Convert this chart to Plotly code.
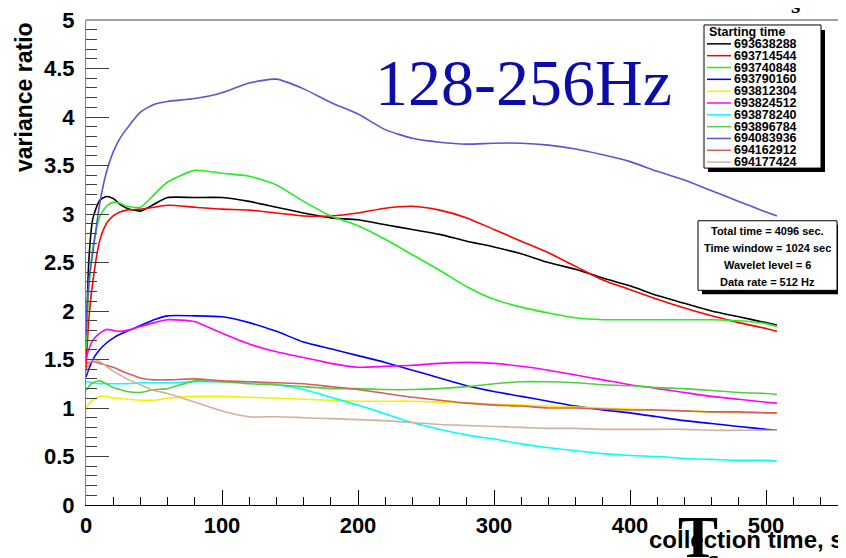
import plotly.graph_objects as go

# ---------------- data ----------------
time_s = [0, 2, 5, 10, 15, 20, 25, 30, 40, 50, 60, 80, 100, 120, 140, 160, 180, 200,
          220, 240, 260, 280, 300, 320, 340, 360, 380, 400, 420, 440, 460, 480, 500, 508]

starting_times = ["693638288", "693714544", "693740848", "693790160", "693812304",
                  "693824512", "693878240", "693896784", "694083936", "694162912",
                  "694177424"]

r_693638288 = [1.5, 2.5, 2.95, 3.14, 3.18, 3.16, 3.1, 3.06, 3.03, 3.1, 3.17, 3.17, 3.17, 3.13,
               3.07, 3.01, 2.96, 2.94, 2.89, 2.84, 2.79, 2.72, 2.66, 2.59, 2.5, 2.43, 2.34,
               2.26, 2.16, 2.08, 2.0, 1.94, 1.88, 1.855]
r_693714544 = [1.4, 1.9, 2.3, 2.72, 2.9, 2.98, 3.02, 3.04, 3.05, 3.07, 3.09, 3.07, 3.05, 3.04,
               3.01, 2.98, 2.98, 3.01, 3.06, 3.08, 3.04, 2.96, 2.84, 2.72, 2.6, 2.46, 2.32,
               2.22, 2.12, 2.03, 1.95, 1.88, 1.82, 1.79]
r_693740848 = [1.6, 2.2, 2.65, 2.97, 3.08, 3.12, 3.11, 3.08, 3.07, 3.2, 3.33, 3.45, 3.42, 3.39,
               3.3, 3.13, 2.98, 2.88, 2.74, 2.58, 2.42, 2.25, 2.12, 2.04, 1.98, 1.93, 1.91,
               1.91, 1.91, 1.91, 1.91, 1.9, 1.87, 1.84]
r_693790160 = [1.32, 1.4, 1.5, 1.6, 1.67, 1.72, 1.76, 1.79, 1.85, 1.91, 1.95, 1.95, 1.94, 1.88,
               1.79, 1.68, 1.61, 1.54, 1.47, 1.39, 1.31, 1.23, 1.17, 1.12, 1.07, 1.02, 0.98,
               0.95, 0.91, 0.87, 0.84, 0.81, 0.78, 0.77]
r_693812304 = [1.0, 1.04, 1.08, 1.12, 1.12, 1.1, 1.1, 1.09, 1.08, 1.08, 1.1, 1.12, 1.12, 1.11,
               1.1, 1.09, 1.08, 1.07, 1.07, 1.07, 1.06, 1.05, 1.04, 1.03, 1.02, 1.01, 1.0,
               0.99, 0.98, 0.97, 0.96, 0.95, 0.95, 0.94]
r_693824512 = [1.5, 1.6, 1.7, 1.77, 1.81, 1.8, 1.79, 1.8, 1.84, 1.88, 1.91, 1.89, 1.77, 1.66,
               1.58, 1.52, 1.46, 1.42, 1.43, 1.44, 1.46, 1.47, 1.46, 1.43, 1.39, 1.34, 1.29,
               1.24, 1.2, 1.16, 1.12, 1.09, 1.06, 1.05]
r_693878240 = [1.27, 1.27, 1.26, 1.25, 1.25, 1.25, 1.25, 1.25, 1.26, 1.26, 1.26, 1.27, 1.27,
               1.27, 1.24, 1.19, 1.11, 1.03, 0.94, 0.85, 0.78, 0.72, 0.68, 0.63, 0.59, 0.56,
               0.53, 0.51, 0.5, 0.48, 0.47, 0.46, 0.46, 0.45]
r_693896784 = [1.18, 1.22, 1.26, 1.28, 1.25, 1.21, 1.19, 1.17, 1.16, 1.19, 1.2, 1.28, 1.27,
               1.25, 1.24, 1.22, 1.2, 1.2, 1.19, 1.19, 1.2, 1.22, 1.25, 1.27, 1.27, 1.26, 1.24,
               1.23, 1.21, 1.2, 1.18, 1.16, 1.15, 1.14]
r_694083936 = [1.75, 2.3, 2.6, 3.1, 3.43, 3.64, 3.78, 3.88, 4.05, 4.13, 4.16, 4.19, 4.25, 4.35,
               4.39, 4.29, 4.15, 4.03, 3.87, 3.78, 3.74, 3.72, 3.73, 3.73, 3.71, 3.67, 3.61,
               3.54, 3.44, 3.35, 3.24, 3.13, 3.02, 2.98]
r_694162912 = [1.45, 1.47, 1.48, 1.46, 1.44, 1.42, 1.39, 1.36, 1.31, 1.29, 1.29, 1.3, 1.28,
               1.27, 1.26, 1.25, 1.22, 1.19, 1.15, 1.11, 1.08, 1.05, 1.03, 1.02, 1.0, 1.0,
               0.99, 0.98, 0.98, 0.97, 0.96, 0.96, 0.95, 0.95]
r_694177424 = [1.35, 1.45, 1.5, 1.48, 1.43, 1.38, 1.34, 1.3, 1.24, 1.18, 1.15, 1.06, 0.97,
               0.91, 0.91, 0.9, 0.89, 0.88, 0.87, 0.85, 0.83, 0.82, 0.81, 0.8, 0.79, 0.79,
               0.78, 0.78, 0.78, 0.78, 0.77, 0.77, 0.77, 0.77]

series_values = [r_693638288, r_693714544, r_693740848, r_693790160, r_693812304,
                 r_693824512, r_693878240, r_693896784, r_694083936, r_694162912,
                 r_694177424]

line_colors = ["#000000", "#ff0000", "#22ee22", "#0000ff", "#f2f200", "#ff00ff",
               "#00ffff", "#4fcf3f", "#5954d9", "#d85c5c", "#d2b0a0"]

stats_lines = ["Total time = 4096 sec.", "Time window = 1024 sec",
               "Wavelet level = 6", "Data rate = 512 Hz"]

# ---------------- geometry (page pixels; the page body has an 8px margin) ----------------
OFF = 8
W, H = 846 - OFF, 558 - OFF
L, T, B = 86, 17, 505           # plot area in page pixels
PW, PH = 846 - L, B - T


def px(x):
    return (x - L) / PW


def py(y):
    return (B - y) / PH


fig = go.Figure()
for name, vals, col in zip(starting_times, series_values, line_colors):
    fig.add_trace(go.Scatter(x=time_s, y=vals, mode="lines", name=name,
                             line=dict(color=col, width=1.6, shape="spline", smoothing=0.6),
                             showlegend=False))

tickfont = dict(family="Liberation Sans, Arial", size=22, color="black", weight="bold")

fig.update_layout(
    width=W, height=H,
    margin=dict(l=L - OFF, r=0, t=T - OFF, b=558 - B, pad=0),
    paper_bgcolor="white", plot_bgcolor="white",
    xaxis=dict(range=[0, PW / 1.36], showgrid=False, zeroline=False,
               showline=True, linecolor="black", linewidth=1,
               ticks="inside", ticklen=15, tickwidth=1, tickcolor="black",
               dtick=100, tick0=0, tickfont=tickfont, ticklabelstandoff=1,
               ticklabeloverflow="allow",
               minor=dict(dtick=20, ticks="inside", ticklen=8, tickcolor="black",
                          showgrid=False)),
    yaxis=dict(range=[0, 5], showgrid=False, zeroline=False,
               showline=True, linecolor="#808080", linewidth=1,
               ticks="inside", ticklen=23, tickwidth=1, tickcolor="#404040",
               dtick=0.5, tick0=0, tickfont=tickfont, ticklabelstandoff=6,
               ticklabeloverflow="allow",
               minor=dict(dtick=0.1, ticks="inside", ticklen=11, tickcolor="#404040",
                          showgrid=False)),
)

shapes = []
annotations = []

# top frame line
shapes.append(dict(type="line", xref="paper", yref="paper", x0=0, x1=1.02, y0=1, y1=1,
                   line=dict(color="#808080", width=1.5)))

# legend box with shadow
shapes.append(dict(type="rect", xref="paper", yref="paper",
                   x0=px(708), x1=px(825), y0=py(170), y1=py(27),
                   fillcolor="black", line=dict(width=0)))
shapes.append(dict(type="rect", xref="paper", yref="paper",
                   x0=px(704), x1=px(821), y0=py(166), y1=py(22),
                   fillcolor="white", line=dict(color="black", width=1)))
annotations.append(dict(text="<b>Starting time</b>", xref="paper", yref="paper",
                        x=px(707), y=py(29), xanchor="left", yanchor="middle",
                        showarrow=False,
                        font=dict(family="Liberation Sans, Arial", size=12.5, color="black")))
for i, (name, col) in enumerate(zip(starting_times, line_colors)):
    yy = 41 + i * 11.9
    shapes.append(dict(type="line", xref="paper", yref="paper",
                       x0=px(707), x1=px(731), y0=py(yy), y1=py(yy),
                       line=dict(color=col, width=1.5)))
    annotations.append(dict(text="<b>" + name + "</b>", xref="paper", yref="paper",
                            x=px(732), y=py(yy), xanchor="left", yanchor="middle",
                            showarrow=False,
                            font=dict(family="Liberation Sans, Arial", size=12.5,
                                      color="black")))

# stats box with shadow
shapes.append(dict(type="rect", xref="paper", yref="paper",
                   x0=px(702), x1=px(841), y0=py(293), y1=py(223),
                   fillcolor="black", line=dict(width=0)))
shapes.append(dict(type="rect", xref="paper", yref="paper",
                   x0=px(698), x1=px(837), y0=py(289), y1=py(219),
                   fillcolor="white", line=dict(color="black", width=1)))
for i, s in enumerate(stats_lines):
    annotations.append(dict(text="<b>" + s + "</b>", xref="paper", yref="paper",
                            x=px(767), y=py(229 + i * 17.3), xanchor="center",
                            yanchor="middle", showarrow=False,
                            font=dict(family="Liberation Sans, Arial", size=11,
                                      color="black")))

# big band label
annotations.append(dict(text="128-256Hz", xref="paper", yref="paper",
                        x=px(523), y=py(80), xanchor="center", yanchor="middle",
                        showarrow=False,
                        font=dict(family="Liberation Serif, Times New Roman", size=66,
                                  color="#0c0ca8")))

# axis titles
annotations.append(dict(text="<b>variance ratio</b>", xref="paper", yref="paper",
                        x=px(24), y=1.0, xanchor="center", yanchor="top",
                        textangle=-90, showarrow=False,
                        font=dict(family="Liberation Sans, Arial", size=23, color="black")))
annotations.append(dict(text="<b>collection time, s</b>", xref="paper", yref="paper",
                        x=px(647), y=py(540), xanchor="left", yanchor="middle",
                        showarrow=False,
                        font=dict(family="Liberation Sans, Arial", size=24, color="black")))

# stray large labels
annotations.append(dict(text="<b>T</b>", xref="paper", yref="paper",
                        x=px(676), y=py(537), xanchor="left", yanchor="middle",
                        showarrow=False,
                        font=dict(family="Liberation Serif, Times New Roman", size=60,
                                  color="black")))
annotations.append(dict(text="<b>s</b>", xref="paper", yref="paper",
                        x=px(713), y=py(560), xanchor="center", yanchor="middle",
                        showarrow=False,
                        font=dict(family="Liberation Serif, Times New Roman", size=32,
                                  color="black")))
annotations.append(dict(text="<b>s</b>", xref="paper", yref="paper",
                        x=px(795), y=py(2), xanchor="center", yanchor="middle",
                        showarrow=False,
                        font=dict(family="Liberation Serif, Times New Roman", size=24,
                                  color="black")))

fig.update_layout(shapes=shapes, annotations=annotations)
fig.write_html("out.html")
